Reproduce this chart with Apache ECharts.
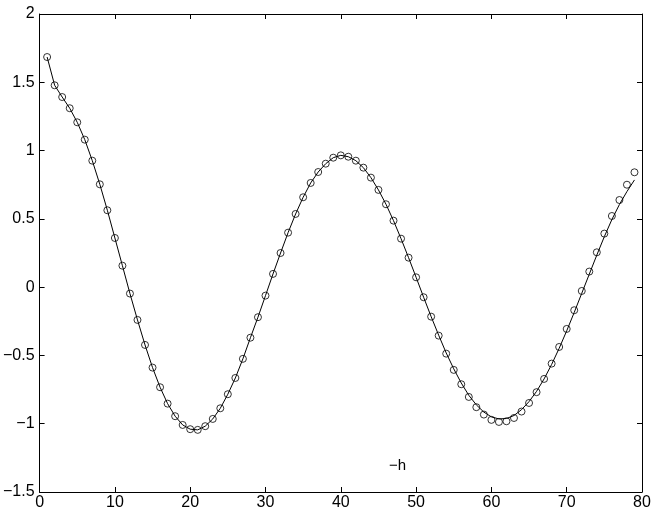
<!DOCTYPE html>
<html><head><meta charset="utf-8">
<script src="https://cdn.jsdelivr.net/npm/echarts@6/dist/echarts.min.js"></script>
<style>html,body{margin:0;padding:0;background:#fff}#c{width:656px;height:516px}</style>
</head><body><div id="c"></div>
<script>
var xValues = [];
for (var i = 1; i <= 79; i++) xValues.push(i);
var circleValues = [1.685,1.478,1.392,1.31,1.207,1.08,0.926,0.753,0.563,0.36,
0.157,-0.047,-0.24,-0.423,-0.589,-0.733,-0.853,-0.945,-1.009,-1.04,
-1.045,-1.018,-0.965,-0.887,-0.784,-0.665,-0.525,-0.37,-0.22,-0.062,
0.097,0.25,0.399,0.536,0.658,0.763,0.843,0.904,0.948,0.965,
0.955,0.926,0.875,0.802,0.712,0.607,0.487,0.355,0.216,0.072,
-0.074,-0.216,-0.355,-0.487,-0.606,-0.711,-0.804,-0.879,-0.933,-0.972,
-0.987,-0.982,-0.958,-0.911,-0.848,-0.769,-0.672,-0.56,-0.438,-0.306,
-0.169,-0.028,0.114,0.255,0.392,0.521,0.638,0.75,0.841];
var lineValues = [1.685,1.478,1.392,1.31,1.207,1.08,0.926,0.753,0.563,0.36,
0.157,-0.047,-0.24,-0.423,-0.589,-0.733,-0.853,-0.945,-1.009,-1.04,
-1.045,-1.018,-0.965,-0.887,-0.784,-0.665,-0.525,-0.37,-0.22,-0.062,
0.097,0.25,0.399,0.536,0.658,0.763,0.843,0.904,0.948,0.965,
0.955,0.926,0.875,0.802,0.712,0.607,0.487,0.355,0.216,0.072,
-0.074,-0.216,-0.352,-0.482,-0.598,-0.702,-0.792,-0.862,-0.915,-0.950,
-0.965,-0.962,-0.940,-0.897,-0.838,-0.763,-0.672,-0.566,-0.448,-0.320,
-0.185,-0.045,0.095,0.235,0.370,0.495,0.605,0.700,0.785];
var xTicks = [0,10,20,30,40,50,60,70,80];
var yTicks = [-1.5,-1,-0.5,0,0.5,1,1.5,2];
var legendText = '\u2212h';

function pairs(v){ return xValues.map(function(x,i){ return [x, v[i]]; }); }
var font = 'Liberation Sans, Arial, Helvetica, sans-serif';
function fmt(v){ return String(v).replace('-', '\u2212'); }

var chart = echarts.init(document.getElementById('c'), null, {renderer:'canvas'});
var axisLine = {show:true, onZero:false, lineStyle:{color:'#000', width:1}};
var tick = {show:true, inside:true, length:5, lineStyle:{color:'#000', width:1}};
chart.setOption({
  animation:false,
  backgroundColor:'#fff',
  grid:{left:36, right:14, top:14, bottom:24, containLabel:false},
  xAxis:[
    {type:'value', min:0, max:80, interval:10, position:'bottom',
     axisLine:axisLine, axisTick:tick, splitLine:{show:false},
     axisLabel:{color:'#000', fontSize:16, fontFamily:font, margin:3, formatter:fmt}},
    {type:'value', min:0, max:80, interval:10, position:'top',
     axisLine:axisLine, axisTick:tick, splitLine:{show:false}, axisLabel:{show:false}}
  ],
  yAxis:[
    {type:'value', min:-1.5, max:2, interval:0.5, position:'left',
     axisLine:axisLine, axisTick:tick, splitLine:{show:false},
     axisLabel:{color:'#000', fontSize:16, fontFamily:font, margin:5, formatter:fmt}},
    {type:'value', min:-1.5, max:2, interval:0.5, position:'right',
     axisLine:axisLine, axisTick:tick, splitLine:{show:false}, axisLabel:{show:false}}
  ],
  series:[
    {type:'line', data:pairs(lineValues), showSymbol:false, symbol:'none',
     lineStyle:{color:'#000', width:1}, z:2},
    {type:'scatter', data:pairs(circleValues), symbol:'circle', symbolSize:7,
     itemStyle:{color:'rgba(0,0,0,0)', borderColor:'#000', borderWidth:1}, z:3}
  ],
  graphic:[
    {type:'text', left:389, top:458, style:{text:legendText, fill:'#000', fontSize:15, fontFamily:font}}
  ]
});
</script></body></html>
